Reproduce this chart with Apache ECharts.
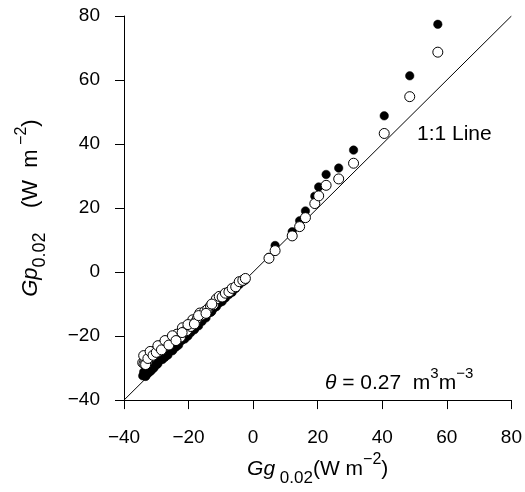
<!DOCTYPE html>
<html>
<head>
<meta charset="utf-8">
<script src="https://cdn.jsdelivr.net/npm/echarts@6/dist/echarts.min.js"></script>
<style>
html,body{margin:0;padding:0;background:#fff;}
#c{width:525px;height:492px;}
</style>
</head>
<body>
<div id="c"></div>
<script>
// Gg0.02 (x) values shared by both series
var xVals = [
  -34.2, -33.8, -33.5, -33.1, -32.8, -32.4, -32.0, -31.6, -31.2, -30.7,
  -30.3, -29.8, -29.2, -28.7, -28.1, -27.6, -27.0, -26.4, -25.9, -25.3,
  -24.8, -24.2, -23.6, -23.1, -22.5, -21.9, -21.2, -20.6, -19.9, -19.3,
  -18.7, -17.9, -17.2, -16.5, -15.8, -15.0, -14.1, -13.2, -12.3, -11.4,
  -10.5, -9.6, -8.6, -7.5, -6.5, -5.4, -4.3, -3.2, -2.4,
  -33.9, -33.3, -32.6, -31.9, -31.0, -30.0, -29.5, -28.4, -27.3, -26.1,
  -25.0, -23.9, -22.0, -20.2, -18.2, -16.9, -14.6, -12.8,
  4.9, 6.8, 12.1, 14.4, 16.2, 19.1, 20.3, 22.6, 26.5, 31.1, 40.6, 48.5, 57.2
];
// Gp0.02 filled markers
var filledY = [
  -32.4, -32.0, -31.6, -32.2, -31.0, -31.5, -30.2, -30.8, -29.7, -29.9,
  -28.6, -28.9, -27.8, -27.1, -27.3, -26.2, -25.8, -25.9, -24.6, -24.0,
  -24.2, -23.1, -22.4, -22.8, -21.6, -20.7, -20.9, -19.6, -18.8, -18.9,
  -17.5, -17.4, -16.1, -15.6, -15.4, -14.2, -13.0, -12.6, -11.4, -10.8,
  -9.7, -9.2, -8.1, -7.0, -6.3, -5.1, -3.9, -3.0, -2.5,
  -31.2, -32.6, -30.6, -31.0, -30.1, -28.2, -28.6, -26.9, -26.6, -25.0,
  -24.6, -23.4, -21.2, -20.0, -18.0, -16.8, -14.3, -12.3,
  4.6, 8.3, 12.6, 16.0, 19.1, 23.7, 26.6, 30.5, 32.5, 38.1, 48.8, 61.3, 77.4
];
// Gp0.02 open markers
var openY = [
  -28.3, -28.6, -27.4, -26.8, -27.9, -26.2, -25.7, -26.5, -25.1, -25.6,
  -24.6, -24.1, -24.8, -23.5, -22.7, -23.4, -22.0, -21.6, -22.4, -20.6,
  -21.3, -20.0, -19.4, -20.7, -20.3, -17.4, -18.6, -18.3, -16.5, -17.0,
  -14.9, -15.6, -14.3, -12.8, -13.4, -12.3, -11.6, -10.6, -10.2, -8.4,
  -7.6, -7.8, -6.6, -6.2, -5.1, -4.6, -3.0, -2.6, -2.0,
  -26.1, -28.9, -27.0, -24.8, -26.0, -25.1, -23.0, -24.3, -21.4, -22.8,
  -19.9, -21.4, -18.9, -16.4, -16.2, -13.6, -12.9, -10.0,
  4.3, 6.7, 11.3, 14.2, 17.0, 21.4, 23.8, 27.1, 29.1, 34.0, 43.3, 54.8, 68.7
];
// 1:1 line end points
var lineX = [-40, 80];
var lineY = [-40, 80];
var axisMin = -40, axisMax = 80, axisStep = 20;

function pairs(xs, ys) { return xs.map(function (x, i) { return [x, ys[i]]; }); }
function fmt(v) { return String(v).replace('-', '\u2212'); }

var FONT = 'Liberation Sans';
var chart = echarts.init(document.getElementById('c'), null, {renderer: 'canvas'});
function richSet(main, sub, sup) {
  return {
    i: {fontStyle: 'italic', fontSize: main, fontFamily: FONT, color: '#000', verticalAlign: 'bottom', lineHeight: 28},
    n: {fontSize: main, fontFamily: FONT, color: '#000', verticalAlign: 'bottom', lineHeight: 28},
    sub: {fontSize: sub, fontFamily: FONT, color: '#000', verticalAlign: 'bottom', lineHeight: 20, padding: [0, 0, -7, 0]},
    sup: {fontSize: sup, fontFamily: FONT, color: '#000', verticalAlign: 'top', lineHeight: 16}
  };
}
var option = {
  animation: false,
  backgroundColor: '#fff',
  grid: {left: 124, right: 10, top: 16, bottom: 89, containLabel: false},
  xAxis: {
    type: 'value', min: axisMin, max: axisMax, interval: axisStep,
    axisLine: {onZero: false, lineStyle: {color: '#000', width: 1}},
    axisTick: {inside: false, length: 9, lineStyle: {color: '#000'}},
    splitLine: {show: false},
    axisLabel: {color: '#000', fontSize: 19, fontFamily: FONT, margin: 28, formatter: fmt},
    name: '{i|Gg}{sub| 0.02}{n|(W m}{sup|\u22122}{n|)}',
    nameLocation: 'middle', nameGap: 51,
    nameTextStyle: {rich: richSet(21, 17, 16)}
  },
  yAxis: {
    type: 'value', min: axisMin, max: axisMax, interval: axisStep,
    axisLine: {onZero: false, lineStyle: {color: '#000', width: 1}},
    axisTick: {inside: false, length: 9, lineStyle: {color: '#000'}},
    splitLine: {show: false},
    axisLabel: {color: '#000', fontSize: 19, fontFamily: FONT, margin: 24, formatter: fmt},
    name: '{i|Gp}{sub|0.02}{n|    (W  m}{sup| \u22122}{n|)}',
    nameLocation: 'middle', nameGap: 82, nameRotate: 90,
    nameTextStyle: {rich: richSet(22, 18, 16)}
  },
  series: [
    {
      type: 'line', data: pairs(lineX, lineY), symbol: 'none', silent: true,
      lineStyle: {color: '#000', width: 1}, z: 1
    },
    {
      type: 'scatter', data: pairs(xVals, filledY), symbol: 'circle', symbolSize: 8.5,
      itemStyle: {color: '#000', borderColor: '#000', borderWidth: 0.5, opacity: 1}, z: 2
    },
    {
      type: 'scatter', data: pairs(xVals, openY), symbol: 'circle', symbolSize: 10,
      itemStyle: {color: '#fff', borderColor: '#000', borderWidth: 1, opacity: 1}, z: 3
    }
  ],
  graphic: [
    {
      type: 'text', left: 417, top: 124, z: 10,
      style: {text: '1:1 Line', fontSize: 21, fontFamily: FONT, fill: '#000'}
    },
    {
      type: 'text', left: 325, top: 366, z: 10,
      style: {
        text: '{t|\u03b8}{n| = 0.27  m}{sup|3}{n|m}{sup|\u22123}',
        rich: {
          t: {fontStyle: 'italic', fontSize: 21, fontFamily: FONT, fill: '#000', verticalAlign: 'bottom', lineHeight: 28},
          n: {fontSize: 21, fontFamily: FONT, fill: '#000', verticalAlign: 'bottom', lineHeight: 28},
          sup: {fontSize: 15, fontFamily: FONT, fill: '#000', verticalAlign: 'top', lineHeight: 16}
        }
      }
    }
  ]
};
chart.setOption(option);
</script>
</body>
</html>
